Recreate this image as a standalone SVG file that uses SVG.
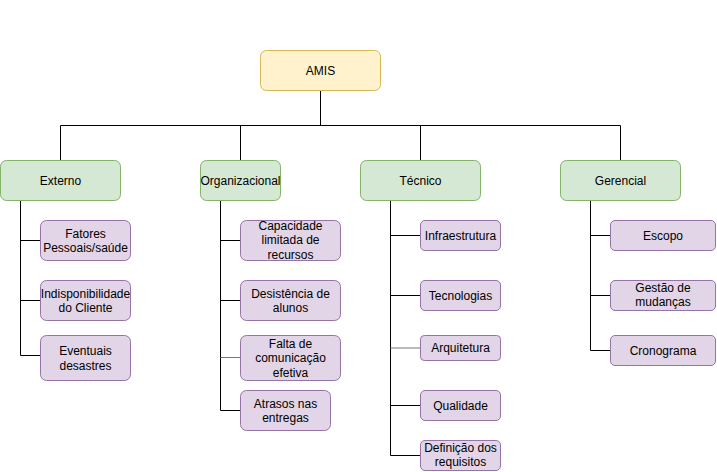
<svg xmlns="http://www.w3.org/2000/svg" width="717" height="472" viewBox="0 0 717 472">
<style>
text{font-family:"Liberation Sans",Arial,sans-serif;font-size:12px;fill:#000;text-anchor:middle}
.root{fill:#fff2cc;stroke:#d6b656}
.cat{fill:#d5e8d4;stroke:#82b366}
.leaf{fill:#e1d5e7;stroke:#9673a6}
.c{fill:none;stroke:#000;stroke-width:1}
.g{stroke:#777}
</style>
<rect width="717" height="472" fill="#fff"/>
<g id="connectors">
<path class="c" d="M320.5 90.5V125.5M60.5 160.5V125.5H620.5V160.5M240.5 125.5V160.5M420.5 125.5V160.5"/>
<path class="c" d="M20.5 200.5V355.5H40.5M20.5 240.5H40.5M20.5 300.5H40.5"/>
<path class="c" d="M220.5 200.5V410.5H240.5M220.5 240.5H240.5M220.5 300.5H240.5"/>
<path class="c g" d="M220.5 357.5H240.5"/>
<path class="c" d="M390.5 200.5V455.5H420.5M390.5 235.5H420.5M390.5 295.5H420.5M390.5 405.5H420.5"/>
<path class="c g" d="M390.5 348H420.5"/>
<path class="c" d="M590.5 200.5V350.5H610.5M590.5 235.5H610.5M590.5 295.5H610.5"/>
</g>
<g id="amis"><rect class="root" x="260.5" y="50.5" width="120" height="40" rx="6"/><text x="320.5" y="74.5">AMIS</text></g>
<g id="externo"><rect class="cat" x="0.5" y="160.5" width="120" height="40" rx="6"/><text x="60.5" y="184.5">Externo</text></g>
<g id="organizacional"><rect class="cat" x="200.5" y="160.5" width="80" height="40" rx="6"/><text x="240.5" y="184.5">Organizacional</text></g>
<g id="tecnico"><rect class="cat" x="360.5" y="160.5" width="120" height="40" rx="6"/><text x="420.5" y="184.5">Técnico</text></g>
<g id="gerencial"><rect class="cat" x="560.5" y="160.5" width="120" height="40" rx="6"/><text x="620.5" y="184.5">Gerencial</text></g>
<g id="fatores"><rect class="leaf" x="40.5" y="220.5" width="90" height="40" rx="6"/><text x="85.5" y="237.5">Fatores</text><text x="85.5" y="252">Pessoais/saúde</text></g>
<g id="indisponibilidade"><rect class="leaf" x="40.5" y="280.5" width="90" height="40" rx="6"/><text x="85.5" y="297.5">Indisponibilidade</text><text x="85.5" y="312">do Cliente</text></g>
<g id="eventuais"><rect class="leaf" x="40.5" y="335.5" width="90" height="45" rx="6"/><text x="85.5" y="355">Eventuais</text><text x="85.5" y="369.5">desastres</text></g>
<g id="capacidade"><rect class="leaf" x="240.5" y="220.5" width="100" height="40" rx="6"/><text x="290.5" y="230">Capacidade</text><text x="290.5" y="244">limitada de</text><text x="290.5" y="258.5">recursos</text></g>
<g id="desistencia"><rect class="leaf" x="240.5" y="280.5" width="100" height="40" rx="6"/><text x="290.5" y="297.5">Desistência de</text><text x="290.5" y="312">alunos</text></g>
<g id="falta"><rect class="leaf" x="240.5" y="335.5" width="100" height="45" rx="6"/><text x="290.5" y="348">Falta de</text><text x="290.5" y="362">comunicação</text><text x="290.5" y="376.5">efetiva</text></g>
<g id="atrasos"><rect class="leaf" x="240.5" y="390.5" width="90" height="40" rx="6"/><text x="285.5" y="407.5">Atrasos nas</text><text x="285.5" y="422">entregas</text></g>
<g id="infraestrutura"><rect class="leaf" x="420.5" y="220.5" width="80" height="30" rx="4.5"/><text x="460.5" y="239.5">Infraestrutura</text></g>
<g id="tecnologias"><rect class="leaf" x="420.5" y="280.5" width="80" height="30" rx="4.5"/><text x="460.5" y="299.5">Tecnologias</text></g>
<g id="arquitetura"><rect class="leaf" x="420.5" y="335.5" width="80" height="25" rx="3.75"/><text x="460.5" y="352">Arquitetura</text></g>
<g id="qualidade"><rect class="leaf" x="420.5" y="390.5" width="80" height="30" rx="4.5"/><text x="460.5" y="409.5">Qualidade</text></g>
<g id="definicao"><rect class="leaf" x="420.5" y="440.5" width="80" height="30" rx="4.5"/><text x="460.5" y="451.7">Definição dos</text><text x="460.5" y="466.3">requisitos</text></g>
<g id="escopo"><rect class="leaf" x="610.5" y="220.5" width="105" height="30" rx="4.5"/><text x="663" y="239.5">Escopo</text></g>
<g id="gestao"><rect class="leaf" x="610.5" y="280.5" width="105" height="30" rx="4.5"/><text x="663" y="291.7">Gestão de</text><text x="663" y="306.3">mudanças</text></g>
<g id="cronograma"><rect class="leaf" x="610.5" y="335.5" width="105" height="30" rx="4.5"/><text x="663" y="354.5">Cronograma</text></g>
</svg>
